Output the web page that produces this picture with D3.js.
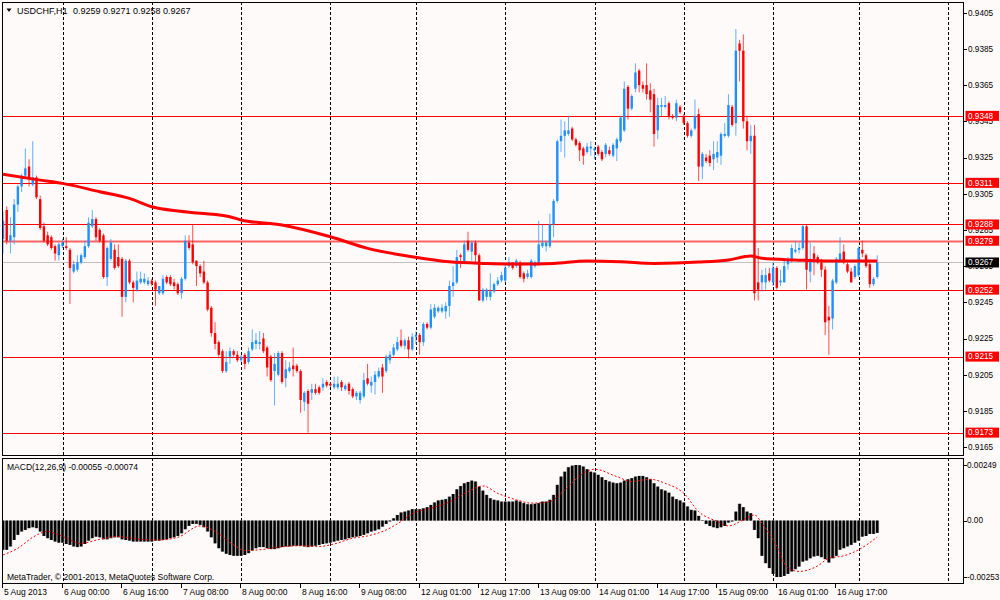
<!DOCTYPE html>
<html><head><meta charset="utf-8">
<script src="https://cdn.jsdelivr.net/npm/d3@7"></script>
<style>
html,body{margin:0;padding:0;background:#fffafa;}
svg{display:block;font-family:"Liberation Sans",Arial,sans-serif;}
</style></head><body>
<svg id="c" width="1000" height="600"></svg>
<script>
// ---------- DATA (USDCHF H1) ----------
const symbolTitle = "USDCHF,H1";
const lastQuote = ["0.9259","0.9271","0.9258","0.9267"];
const opens = [.9280,.9296,.9279,.9281,.9299,.9309,.9315,.9320,.9310,.9314,
.9302,.9287,.9282,.9281,.9276,.9271,.9276,.9276,.9274,.9262,
.9263,.9267,.9270,.9276,.9287,.9291,.9285,.9282,.9259,.9269,
.9274,.9270,.9269,.9248,.9268,.9256,.9252,.9256,.9256,.9255,
.9257,.9256,.9250,.9250,.9259,.9259,.9256,.9255,.9250,.9258,
.9278,.9277,.9268,.9265,.9262,.9256,.9242,.9228,.9223,.9218,
.9207,.9215,.9218,.9216,.9213,.9216,.9212,.9219,.9222,.9222,
.9225,.9220,.9215,.9207,.9205,.9217,.9203,.9207,.9210,.9210,
.9207,.9190,.9196,.9195,.9197,.9198,.9198,.9201,.9200,.9198,
.9198,.9201,.9197,.9200,.9197,.9193,.9191,.9193,.9203,.9199,
.9201,.9204,.9209,.9207,.9213,.9216,.9219,.9224,.9221,.9224,
.9219,.9226,.9227,.9223,.9233,.9231,.9237,.9240,.9240,.9240,
.9243,.9254,.9256,.9271,.9267,.9279,.9273,.9278,.9271,.9246,
.9248,.9248,.9251,.9255,.9257,.9257,.9265,.9267,.9265,.9267,
.9261,.9259,.9259,.9265,.9266,.9276,.9276,.9276,.9288,.9301,
.9334,.9337,.9338,.9341,.9335,.9333,.9330,.9328,.9330,.9329,
.9331,.9328,.9327,.9329,.9326,.9330,.9334,.9340,.9364,.9352,
.9363,.9373,.9365,.9365,.9362,.9360,.9340,.9353,.9353,.9355,
.9348,.9347,.9353,.9348,.9344,.9337,.9341,.9349,.9320,.9325,
.9326,.9324,.9325,.9326,.9337,.9337,.9353,.9344,.9388,.9384,
.9345,.9334,.9337,.9256,.9256,.9256,.9261,.9256,.9264,.9256,
.9256,.9266,.9269,.9273,.9274,.9275,.9287,.9262,.9272,.9270,
.9267,.9263,.9237,.9236,.9256,.9268,.9273,.9266,.9262,.9259,
.9260,.9274,.9271,.9266,.9255,.9259];
const highs = [.9295,.9298,.9292,.9302,.9310,.9316,.9330,.9324,.9334,.9315,
.9304,.9289,.9284,.9282,.9277,.9278,.9280,.9281,.9275,.9268,
.9271,.9272,.9279,.9292,.9296,.9292,.9286,.9283,.9276,.9280,
.9277,.9277,.9270,.9269,.9269,.9257,.9262,.9262,.9261,.9259,
.9258,.9257,.9254,.9260,.9260,.9260,.9258,.9256,.9259,.9282,
.9282,.9288,.9268,.9266,.9268,.9257,.9243,.9234,.9224,.9219,
.9218,.9220,.9219,.9218,.9216,.9217,.9220,.9230,.9228,.9229,
.9228,.9221,.9216,.9217,.9218,.9218,.9213,.9212,.9220,.9211,
.9208,.9196,.9197,.9200,.9200,.9199,.9203,.9202,.9201,.9204,
.9204,.9202,.9200,.9201,.9198,.9196,.9196,.9206,.9211,.9204,
.9207,.9209,.9211,.9216,.9218,.9222,.9226,.9230,.9225,.9226,
.9228,.9229,.9228,.9234,.9234,.9244,.9244,.9243,.9244,.9245,
.9257,.9265,.9274,.9272,.9279,.9284,.9279,.9279,.9272,.9253,
.9253,.9261,.9256,.9259,.9262,.9266,.9270,.9267,.9269,.9268,
.9262,.9263,.9269,.9268,.9290,.9288,.9279,.9294,.9302,.9335,
.9346,.9345,.9348,.9342,.9336,.9334,.9331,.9333,.9334,.9331,
.9332,.9329,.9333,.9331,.9333,.9336,.9348,.9367,.9365,.9360,
.9377,.9374,.9367,.9377,.9366,.9363,.9358,.9358,.9359,.9356,
.9349,.9357,.9354,.9349,.9345,.9341,.9357,.9352,.9328,.9327,
.9329,.9334,.9334,.9339,.9344,.9360,.9354,.9396,.9390,.9393,
.9348,.9343,.9343,.9275,.9263,.9264,.9264,.9267,.9265,.9263,
.9268,.9270,.9277,.9279,.9278,.9288,.9288,.9278,.9276,.9271,
.9269,.9265,.9243,.9258,.9270,.9281,.9277,.9267,.9264,.9266,
.9276,.9279,.9272,.9267,.9259,.9271];
const lows = [.9272,.9277,.9272,.9277,.9295,.9306,.9314,.9309,.9309,.9302,
.9285,.9278,.9276,.9274,.9268,.9268,.9275,.9274,.9244,.9261,
.9262,.9266,.9269,.9275,.9286,.9279,.9278,.9258,.9254,.9268,
.9263,.9264,.9237,.9245,.9255,.9245,.9251,.9255,.9255,.9254,
.9254,.9243,.9249,.9249,.9255,.9254,.9252,.9249,.9247,.9257,
.9274,.9266,.9254,.9259,.9255,.9240,.9226,.9219,.9215,.9206,
.9206,.9211,.9215,.9212,.9212,.9208,.9211,.9218,.9219,.9219,
.9217,.9204,.9201,.9188,.9204,.9200,.9198,.9206,.9204,.9206,
.9184,.9185,.9173,.9191,.9194,.9194,.9196,.9198,.9198,.9197,
.9197,.9196,.9196,.9194,.9192,.9191,.9189,.9192,.9199,.9195,
.9194,.9203,.9195,.9206,.9211,.9215,.9218,.9220,.9219,.9214,
.9218,.9222,.9216,.9221,.9230,.9230,.9236,.9239,.9239,.9236,
.9237,.9248,.9255,.9264,.9267,.9273,.9268,.9267,.9246,.9245,
.9246,.9246,.9250,.9254,.9256,.9256,.9264,.9263,.9264,.9258,
.9256,.9258,.9258,.9264,.9265,.9275,.9273,.9275,.9281,.9300,
.9328,.9325,.9337,.9334,.9331,.9323,.9321,.9327,.9326,.9324,
.9326,.9323,.9325,.9326,.9325,.9323,.9333,.9339,.9346,.9351,
.9361,.9361,.9361,.9357,.9350,.9331,.9335,.9348,.9352,.9346,
.9346,.9345,.9349,.9343,.9336,.9336,.9340,.9312,.9313,.9322,
.9320,.9318,.9322,.9321,.9336,.9336,.9342,.9337,.9367,.9341,
.9329,.9327,.9246,.9246,.9251,.9252,.9256,.9254,.9252,.9254,
.9256,.9263,.9267,.9272,.9272,.9274,.9252,.9256,.9260,.9266,
.9259,.9227,.9216,.9230,.9255,.9267,.9266,.9261,.9256,.9258,
.9259,.9270,.9264,.9253,.9254,.9258];
const closes = [.9290,.9279,.9282,.9299,.9309,.9315,.9319,.9314,.9314,.9303,
.9286,.9279,.9277,.9275,.9272,.9277,.9278,.9275,.9264,.9266,
.9267,.9271,.9276,.9289,.9291,.9281,.9279,.9259,.9275,.9278,
.9264,.9265,.9248,.9268,.9256,.9253,.9257,.9258,.9258,.9257,
.9255,.9252,.9254,.9258,.9256,.9255,.9254,.9250,.9258,.9279,
.9275,.9267,.9265,.9261,.9256,.9241,.9228,.9222,.9216,.9207,
.9212,.9218,.9216,.9213,.9215,.9211,.9218,.9223,.9224,.9223,
.9218,.9209,.9202,.9211,.9217,.9201,.9208,.9209,.9208,.9207,
.9191,.9195,.9189,.9197,.9195,.9195,.9200,.9199,.9199,.9200,
.9200,.9198,.9199,.9196,.9193,.9195,.9195,.9202,.9200,.9201,
.9205,.9207,.9204,.9215,.9216,.9220,.9223,.9221,.9224,.9219,
.9226,.9227,.9223,.9233,.9231,.9241,.9242,.9242,.9242,.9243,
.9254,.9256,.9270,.9270,.9277,.9274,.9278,.9271,.9246,.9252,
.9252,.9251,.9255,.9257,.9260,.9264,.9267,.9264,.9268,.9259,
.9258,.9261,.9268,.9267,.9277,.9278,.9278,.9288,.9301,.9334,
.9337,.9340,.9340,.9335,.9332,.9329,.9326,.9331,.9331,.9330,
.9327,.9324,.9332,.9327,.9332,.9335,.9347,.9363,.9352,.9359,
.9372,.9365,.9363,.9360,.9357,.9338,.9354,.9354,.9354,.9348,
.9347,.9355,.9350,.9344,.9337,.9340,.9348,.9320,.9327,.9323,
.9322,.9327,.9328,.9338,.9338,.9354,.9343,.9384,.9384,.9345,
.9334,.9337,.9250,.9252,.9260,.9260,.9257,.9264,.9253,.9257,
.9265,.9268,.9275,.9274,.9275,.9287,.9263,.9269,.9269,.9267,
.9263,.9234,.9235,.9257,.9269,.9272,.9267,.9262,.9256,.9265,
.9275,.9272,.9265,.9255,.9258,.9267];
// Moving average (bar index, price)
const maPoints = [[0,.93157],[10,.93125],[16,.93107],[26,.93061],[34,.93024],[40,.92978],[47,.92954],[53,.92942],[61,.92923],[64,.92905],[75,.92877],[88,.92812],[98,.92748],[110,.92702],[120,.92674],[130,.92665],[139,.92661],[148,.92665],[157,.92678],[166,.92674],[175,.92665],[187,.92672],[195,.92684],[201,.92706],[204,.92693],[213,.92684],[222,.92678],[235,.92678]];
// MACD main histogram per bar
const macdValues = [-.00131,-.00131,-.00116,-.00087,-.00064,-.00049,-.00042,-.00034,-.00030,-.00034,
-.00049,-.00069,-.00079,-.00087,-.00094,-.00099,-.00099,-.00105,-.00109,-.00116,
-.00119,-.00116,-.00105,-.00090,-.00079,-.00072,-.00075,-.00084,-.00084,-.00079,
-.00075,-.00075,-.00084,-.00087,-.00090,-.00094,-.00094,-.00094,-.00094,-.00094,
-.00094,-.00090,-.00090,-.00087,-.00084,-.00079,-.00075,-.00069,-.00057,-.00039,
-.00024,-.00015,-.00015,-.00019,-.00030,-.00049,-.00075,-.00102,-.00124,-.00139,
-.00149,-.00154,-.00158,-.00158,-.00158,-.00154,-.00146,-.00134,-.00124,-.00119,
-.00119,-.00124,-.00128,-.00128,-.00124,-.00119,-.00116,-.00116,-.00113,-.00113,
-.00113,-.00116,-.00119,-.00116,-.00113,-.00109,-.00105,-.00102,-.00099,-.00094,
-.00090,-.00087,-.00084,-.00079,-.00075,-.00072,-.00069,-.00064,-.00057,-.00049,
-.00045,-.00039,-.00027,-.00015,-.00004,.00010,.00025,.00036,.00040,.00045,
.00051,.00051,.00051,.00055,.00060,.00070,.00081,.00090,.00093,.00096,
.00107,.00119,.00140,.00155,.00167,.00173,.00179,.00175,.00152,.00134,
.00115,.00100,.00093,.00090,.00085,.00085,.00085,.00085,.00090,.00085,
.00078,.00073,.00073,.00075,.00078,.00085,.00085,.00093,.00115,.00160,
.00197,.00219,.00239,.00246,.00249,.00248,.00242,.00230,.00219,.00215,
.00205,.00194,.00182,.00175,.00170,.00167,.00170,.00179,.00185,.00190,
.00197,.00200,.00200,.00194,.00185,.00167,.00152,.00140,.00134,.00125,
.00107,.00096,.00090,.00081,.00063,.00048,.00045,.00021,.00002,-.00015,
-.00024,-.00030,-.00034,-.00030,-.00024,-.00009,-.00004,.00040,.00075,.00060,
.00040,.00033,-.00042,-.00079,-.00158,-.00191,-.00213,-.00239,-.00253,-.00253,
-.00248,-.00239,-.00228,-.00218,-.00206,-.00184,-.00179,-.00169,-.00161,-.00158,
-.00164,-.00173,-.00188,-.00169,-.00158,-.00131,-.00124,-.00116,-.00109,-.00099,
-.00090,-.00072,-.00069,-.00060,-.00060,-.00055];
// MACD signal line (bar index, value)
const signalPoints = [[0,-.00154],[4,-.00124],[8,-.00075],[12,-.00049],[15,-.00064],[21,-.00102],[26,-.00084],[31,-.00072],[37,-.00084],[42,-.00087],[47,-.00075],[53,-.00024],[56,-.00039],[62,-.00109],[65,-.00134],[69,-.00131],[74,-.00119],[80,-.00113],[85,-.00116],[89,-.00105],[94,-.00079],[98,-.00069],[103,-.00042],[107,-.00004],[110,.00030],[116,.00060],[120,.00083],[125,.00130],[129,.00155],[133,.00122],[138,.00093],[142,.00078],[147,.00085],[151,.00137],[156,.00212],[159,.00230],[165,.00197],[169,.00175],[174,.00185],[178,.00167],[183,.00122],[187,.00040],[192,-.00004],[195,-.00024],[199,.00003],[202,.00025],[204,-.00012],[208,-.00116],[211,-.00213],[214,-.00228],[219,-.00203],[222,-.00169],[226,-.00158],[230,-.00131],[235,-.00074]];
const macdTitle = "MACD(12,26,9) -0.00055 -0.00074";
const footer = "MetaTrader, \u00A9 2001-2013, MetaQuotes Software Corp.";
const priceTicks = [0.9405,0.9385,0.9365,0.9345,0.9325,0.9305,0.9285,0.9265,0.9245,0.9225,0.9205,0.9185,0.9165];
const macdTicks = [0.00249,0,-0.00253];
const macdTickLabels = ["0.00249","0.00","-0.00253"];
const levelPrices = [0.9348,0.9311,0.9288,0.9279,0.9252,0.9215,0.9173];
const bidPrice = 0.9267;
const timeLabelIdx = [0,16,32,48,64,80,96,112,128,144,160,176,192,208,224];
const timeLabels = ["5 Aug 2013","6 Aug 00:00","6 Aug 16:00","7 Aug 08:00","8 Aug 00:00","8 Aug 16:00","9 Aug 08:00","12 Aug 01:00","12 Aug 17:00","13 Aug 09:00","14 Aug 01:00","14 Aug 17:00","15 Aug 09:00","16 Aug 01:00","16 Aug 17:00"];
const gridIdx = [16,40,64,88,111,135,159,183,207,230,254];

// ---------- DRAW ----------
const W=1000,H=600;
const PL=2,PR=963,PT=2,PB=456,MT=458,MB=583;
const svg=d3.select("#c");
svg.append("rect").attr("width",W).attr("height",H).attr("fill","#fffafa");

const x=d3.scaleLinear().domain([0,258]).range([3.0,962.8]);
const y=d3.scaleLinear().domain([0.9165,0.9405]).range([447.1,12.7]);
const ym=d3.scaleLinear().domain([-0.00253,0.00249]).range([577,465]);
const crisp=v=>Math.round(v)+0.5;

const defs=svg.append("defs");
defs.append("clipPath").attr("id","cm").append("rect").attr("x",PL).attr("y",PT).attr("width",PR-PL).attr("height",PB-PT);
defs.append("clipPath").attr("id","cd").append("rect").attr("x",PL).attr("y",MT).attr("width",PR-PL).attr("height",MB-MT);

const gMain=svg.append("g").attr("clip-path","url(#cm)");
const gMacd=svg.append("g").attr("clip-path","url(#cd)");

// grid (vertical dashed)
[[gMain,PT,PB],[gMacd,MT,MB]].forEach(([g,a,b])=>{
  g.selectAll("line.grid").data(gridIdx).enter().append("line").attr("class","grid")
    .attr("x1",d=>crisp(x(d))).attr("x2",d=>crisp(x(d)))
    .attr("y1",a).attr("y2",b).attr("stroke","#000").attr("stroke-width",1)
    .attr("stroke-dasharray","3,2");
});

// horizontal levels
gMain.append("line").attr("x1",PL).attr("x2",PR).attr("y1",crisp(y(bidPrice))).attr("y2",crisp(y(bidPrice)))
  .attr("stroke","#c0c0c0").attr("stroke-width",1);
gMain.selectAll("line.lvl").data(levelPrices).enter().append("line").attr("class","lvl")
  .attr("x1",PL).attr("x2",PR).attr("y1",d=>crisp(y(d))).attr("y2",d=>crisp(y(d)))
  .attr("stroke",d=>d===0.9279?"#ff6464":"#ff0000").attr("stroke-width",d=>d===0.9279?2:1);

// candles
const bars=d3.range(opens.length).map(i=>({i,o:opens[i],h:highs[i],l:lows[i],c:closes[i]}));
const col=d=>d.c>=d.o?"#1e90ff":"#ff0000";
gMain.selectAll("line.wick").data(bars).enter().append("line").attr("class","wick")
  .attr("x1",d=>x(d.i)).attr("x2",d=>x(d.i)).attr("y1",d=>y(d.h)).attr("y2",d=>y(d.l))
  .attr("stroke",col).attr("stroke-width",1).attr("stroke-opacity",0.7);
gMain.selectAll("rect.body").data(bars).enter().append("rect").attr("class","body")
  .attr("x",d=>x(d.i)-1.2).attr("width",2.4)
  .attr("y",d=>y(Math.max(d.o,d.c))).attr("height",d=>Math.max(1.2,Math.abs(y(d.o)-y(d.c))))
  .attr("fill",col);

// moving average
gMain.append("path").datum(maPoints)
  .attr("d",d3.line().x(d=>x(d[0])).y(d=>y(d[1])).curve(d3.curveMonotoneX))
  .attr("fill","none").attr("stroke","#ff0000").attr("stroke-width",3);

// MACD histogram
const mb=macdValues.map((v,i)=>({i,v}));
gMacd.selectAll("rect.hg").data(mb).enter().append("rect").attr("class","hg")
  .attr("x",d=>x(d.i)-1.86).attr("width",3.72)
  .attr("y",d=>Math.min(ym(0),ym(d.v))).attr("height",d=>Math.abs(ym(d.v)-ym(0)))
  .attr("fill","#9a9a9a");
gMacd.selectAll("rect.hb").data(mb).enter().append("rect").attr("class","hb")
  .attr("x",d=>x(d.i)-1.2).attr("width",2.4)
  .attr("y",d=>Math.min(ym(0),ym(d.v))).attr("height",d=>Math.abs(ym(d.v)-ym(0)))
  .attr("fill","#000");
gMacd.append("path").datum(signalPoints)
  .attr("d",d3.line().x(d=>x(d[0])).y(d=>ym(d[1])).curve(d3.curveMonotoneX))
  .attr("fill","none").attr("stroke","#ff0000").attr("stroke-width",1).attr("stroke-dasharray","2,2");

// panel borders
svg.append("rect").attr("x",PL+0.5).attr("y",PT+0.5).attr("width",PR-PL).attr("height",PB-PT-1)
  .attr("fill","none").attr("stroke","#000");
svg.append("rect").attr("x",PL+0.5).attr("y",MT+0.5).attr("width",PR-PL).attr("height",MB-MT)
  .attr("fill","none").attr("stroke","#000");

const fs="8.2px";
// price axis
const pa=svg.append("g");
priceTicks.forEach(p=>{
  pa.append("line").attr("x1",PR+0.5).attr("x2",PR+4).attr("y1",crisp(y(p))).attr("y2",crisp(y(p))).attr("stroke","#000");
  pa.append("text").attr("x",968).attr("y",y(p)).attr("dy","0.35em").attr("font-size",fs).attr("fill","#000")
    .text(d3.format(".4f")(p));
});
// level label boxes
levelPrices.forEach(p=>{
  pa.append("rect").attr("x",965.5).attr("y",y(p)-5).attr("width",33.5).attr("height",10).attr("fill","#ff0000");
  pa.append("text").attr("x",968).attr("y",y(p)).attr("dy","0.35em").attr("font-size",fs).attr("fill","#fff")
    .text(d3.format(".4f")(p));
});
pa.append("rect").attr("x",965.5).attr("y",y(bidPrice)-5).attr("width",33.5).attr("height",10).attr("fill","#000");
pa.append("text").attr("x",968).attr("y",y(bidPrice)).attr("dy","0.35em").attr("font-size",fs).attr("fill","#fff")
  .text(d3.format(".4f")(bidPrice));

// macd axis
macdTicks.forEach((v,k)=>{
  pa.append("line").attr("x1",PR+0.5).attr("x2",PR+4).attr("y1",crisp(ym(v))).attr("y2",crisp(ym(v))).attr("stroke","#000");
  pa.append("text").attr("x",967).attr("y",ym(v)).attr("dy","0.35em").attr("font-size",fs).attr("fill","#000")
    .text(macdTickLabels[k]);
});

// time axis
timeLabelIdx.forEach((idx,k)=>{
  const xx=Math.round(x(idx))-0.5;
  svg.append("line").attr("x1",xx).attr("x2",xx).attr("y1",MB).attr("y2",MB+5).attr("stroke","#000");
  svg.append("text").attr("x",xx+1.5).attr("y",595).attr("font-size","8.5px").attr("fill","#000").text(timeLabels[k]);
});

// titles
svg.append("path").attr("d","M6.5,8.5 L11.5,8.5 L9,12 Z").attr("fill","#000");
svg.append("text").attr("x",17).attr("y",13.5).attr("font-size","9px").attr("fill","#000").text(symbolTitle);
svg.append("text").attr("x",73).attr("y",13.5).attr("font-size","9px").attr("fill","#000").text(lastQuote.join(" "));
svg.append("text").attr("x",7).attr("y",469.5).attr("font-size","8.5px").attr("fill","#000").text(macdTitle);
svg.append("text").attr("x",7).attr("y",579.5).attr("font-size","8.5px").attr("fill","#000").text(footer);
</script>
</body></html>
